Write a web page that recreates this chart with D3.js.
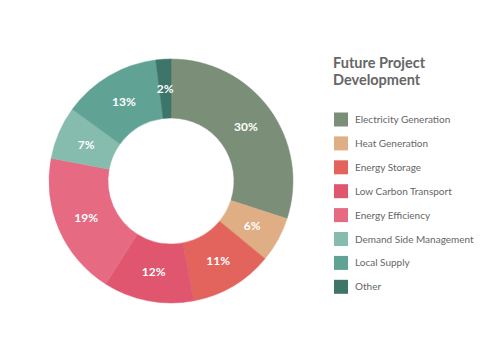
<!DOCTYPE html>
<html><head><meta charset="utf-8">
<script src="https://cdn.jsdelivr.net/npm/d3@7"></script>
<style>body{margin:0;background:#fff;}svg{display:block;}</style>
</head><body>
<svg id="c" width="500" height="354"></svg>
<script>
const categories = ["Electricity Generation","Heat Generation","Energy Storage","Low Carbon Transport","Energy Efficiency","Demand Side Management","Local Supply","Other"];
const values = [30,6,11,12,19,7,13,2];
const colors = ["#7b8f78","#dfae85","#e2645c","#e0566e","#e76a83","#86bcad","#60a394","#3d7568"];
const title = ["Future Project","Development"];

const svg = d3.select("#c");
const cx = 171, cy = 181, rO = 122, rI = 63;
const pie = d3.pie().sort(null).value(d => d)(values);
const arc = d3.arc().innerRadius(rI).outerRadius(rO);
const labelArc = d3.arc().innerRadius((rI+rO)/2).outerRadius((rI+rO)/2);
const g = svg.append("g").attr("transform", `translate(${cx},${cy})`);
g.selectAll("path").data(pie).join("path")
  .attr("d", arc).attr("fill", (d,i) => colors[i])
  .attr("stroke", (d,i) => colors[i]).attr("stroke-width", 0.5);
g.selectAll("text").data(pie).join("text")
  .attr("transform", d => `translate(${labelArc.centroid(d)})`)
  .attr("text-anchor", "middle").attr("dy", "0.36em")
  .attr("fill", "#fff").attr("font-family", "Lato, sans-serif")
  .attr("font-weight", "bold").attr("font-size", 12)
  .text(d => d.data + "%");

const lg = svg.append("g");
lg.selectAll("text.t").data(title).join("text").attr("class","t")
  .attr("x", 333).attr("y", (d,i) => 68 + i*16.5)
  .attr("fill", "#666").attr("font-family", "Lato, sans-serif")
  .attr("font-weight", "bold").attr("font-size", 14.5).text(d => d);
const rows = lg.selectAll("g.r").data(categories).join("g").attr("class","r")
  .attr("transform", (d,i) => `translate(334,${119.5 + i*23.9})`);
rows.append("rect").attr("x",0).attr("y",-7).attr("width",14).attr("height",14)
  .attr("fill", (d,i) => colors[i]);
rows.append("text").attr("x", 21).attr("dy","0.35em")
  .attr("fill","#666").attr("font-family","Lato, sans-serif").attr("font-size",10)
  .text(d => d);
</script>
</body></html>
